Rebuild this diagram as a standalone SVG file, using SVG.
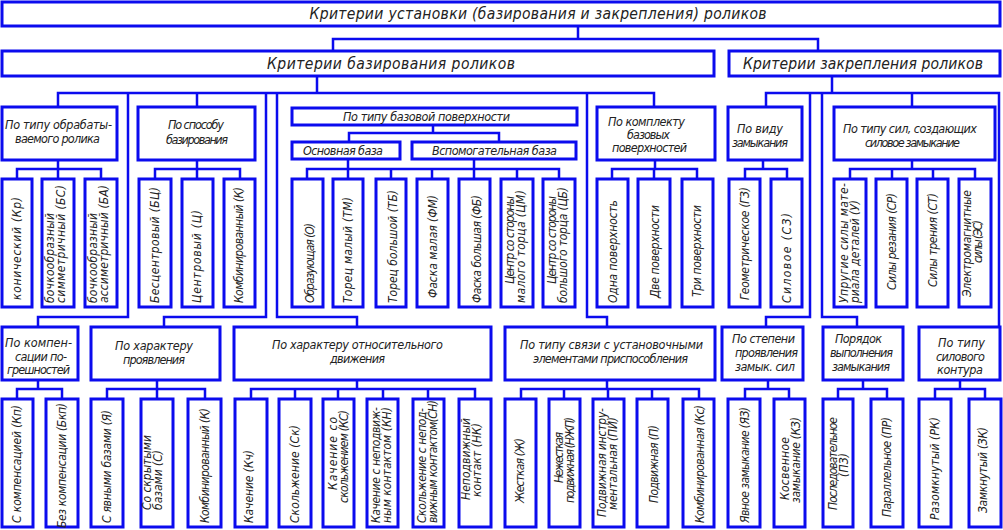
<svg xmlns="http://www.w3.org/2000/svg" width="1003" height="530" viewBox="0 0 1003 530">
<style>
.b{fill:#fff;stroke:#0b0bee;stroke-width:3}
.c{fill:none;stroke:#0b0bee;stroke-width:2.5}
text{font-family:"Liberation Sans Narrow","DejaVu Sans Condensed","Liberation Sans",Arial,sans-serif;font-style:italic;font-size:12.5px;fill:#222;text-anchor:middle}
.h{font-size:15.5px}
.v text{font-size:12px}
</style>
<rect width="1003" height="530" fill="#fff"/>
<g id="connectors" class="c">
<path d="M578,26V39M333,51V39H818V51"/>
<path d="M317,76V93M58,107V93H654V107M197,93V107M128,93V317H38V327M266,93V317H164V327M277,93V317H357V327M587,93V317H607V327"/>
<path d="M832,76V93M766,107V93H999V327M912,93V107M810,93V317H766V327M822,93V317H857V327"/>
<path d="M58,160V169M17,179V169H101V179M58,169V179"/>
<path d="M197,160V169M155,179V169H240V179M197,169V179"/>
<path d="M433,125V133M349,142V133H499V142"/>
<path d="M348,159V169M474,159V169M307,179V169H559V179M348,169V179M391,169V179M432,169V179M474,169V179M517,169V179"/>
<path d="M655,160V169M612,179V169H697V179M654,169V179"/>
<path d="M763,160V169M745,179V169H787V179"/>
<path d="M912,160V169M850,179V169H975V179M892,169V179M933,169V179"/>
<path d="M38,380V389M17,399V389H62V399"/>
<path d="M157,380V389M107,399V389H205V399M157,389V399"/>
<path d="M357,380V389M251,399V389H475V399M295,389V399M338,389V399M383,389V399M428,389V399"/>
<path d="M607,380V389M521,399V389H699V399M564,389V399M608,389V399M652,389V399"/>
<path d="M768,380V389M745,399V389H789V399"/>
<path d="M863,380V389M838,399V389H887V399"/>
<path d="M960,380V389M935,399V389H985V399"/>
</g>
<g id="root"><rect class="b" x="2" y="2" width="998" height="24"/><text class="h" x="538" y="19" textLength="457" lengthAdjust="spacing">Критерии установки (базирования и закрепления) роликов</text></g>
<g id="baz"><rect class="b" x="2" y="51" width="712" height="25"/><text class="h" x="391" y="69" textLength="248" lengthAdjust="spacing">Критерии базирования  роликов</text></g>
<g id="zakr"><rect class="b" x="729" y="51" width="271" height="25"/><text class="h" x="863" y="69" textLength="240" lengthAdjust="spacing">Критерии закрепления роликов</text></g>

<g id="n_obr"><rect class="b" x="2" y="107" width="115" height="53"/><text x="58.5" y="129" textLength="107">По типу обрабаты-</text><text x="57.5" y="143" textLength="85">ваемого ролика</text></g>
<g id="n_sposob"><rect class="b" x="138" y="107" width="117" height="53"/><text x="196" y="129" textLength="56">По способу</text><text x="197" y="144" textLength="62">базирования</text></g>
<g id="n_tipbaz"><rect class="b" x="292" y="108" width="285" height="17"/><text x="426.5" y="121" textLength="167">По типу базовой поверхности</text></g>
<g id="n_osn"><rect class="b" x="292" y="142" width="108" height="17"/><text x="343" y="155" textLength="80">Основная база</text></g>
<g id="n_vsp"><rect class="b" x="412" y="142" width="164" height="17"/><text x="494.5" y="155" textLength="125">Вспомогательная база</text></g>
<g id="n_kompl"><rect class="b" x="597" y="107" width="118" height="53"/><text x="646.5" y="126" textLength="77">По комплекту</text><text x="648.5" y="139" textLength="43">базовых</text><text x="649.5" y="152" textLength="75">поверхностей</text></g>
<g id="n_vid"><rect class="b" x="728" y="107" width="74" height="53"/><text x="760" y="133" textLength="46">По виду</text><text x="760" y="147" textLength="56">замыкания</text></g>
<g id="n_sil"><rect class="b" x="834" y="107" width="161" height="53"/><text x="910" y="132.5" textLength="134">По типу сил, создающих</text><text x="912.5" y="147" textLength="95">силовое замыкание</text></g>

<g id="n_komp"><rect class="b" x="2" y="327" width="76" height="53"/><text x="38.5" y="347" textLength="67">По компен-</text><text x="41" y="361" textLength="52">сации по-</text><text x="38.5" y="374" textLength="63">грешностей</text></g>
<g id="n_har"><rect class="b" x="91" y="327" width="129" height="53"/><text x="154" y="350" textLength="78">По характеру</text><text x="154" y="364" textLength="62">проявления</text></g>
<g id="n_otn"><rect class="b" x="234" y="327" width="257" height="53"/><text x="357.5" y="349" textLength="171">По характеру относительного</text><text x="357.5" y="362.5" textLength="55">движения</text></g>
<g id="n_svyaz"><rect class="b" x="505" y="327" width="210" height="53"/><text x="611.5" y="349" textLength="183">По типу связи с установочными</text><text x="610.5" y="362.5" textLength="155">элементами приспособления</text></g>
<g id="n_step"><rect class="b" x="722" y="327" width="81" height="53"/><text x="763.5" y="343" textLength="63">По степени</text><text x="766.5" y="357" textLength="63">проявления</text><text x="765" y="371" textLength="60">замык. сил</text></g>
<g id="n_por"><rect class="b" x="823" y="327" width="80" height="53"/><text x="858.5" y="343" textLength="47">Порядок</text><text x="861.5" y="357" textLength="63">выполнения</text><text x="861" y="371" textLength="58">замыкания</text></g>
<g id="n_kont"><rect class="b" x="919" y="327" width="81" height="53"/><text x="961.5" y="347" textLength="47">По типу</text><text x="960.5" y="361" textLength="49">силового</text><text x="960" y="374" textLength="46">контура</text></g>

<g id="leaves_top" class="v">
<g id="A1"><rect class="b" x="2" y="179" width="30" height="128"/><text transform="translate(21,248.5) rotate(-90)" textLength="103">конический (Кр)</text></g>
<g id="A2"><rect class="b" x="42" y="179" width="32" height="128"/><text transform="translate(53.5,258) rotate(-90)" textLength="90">бочкообразный</text><text transform="translate(64.5,244) rotate(-90)" textLength="118">симметричный (БС)</text></g>
<g id="A3"><rect class="b" x="85" y="179" width="32" height="128"/><text transform="translate(96.5,258) rotate(-90)" textLength="90">бочкообразный</text><text transform="translate(107.5,244) rotate(-90)" textLength="118">ассиметричный (БА)</text></g>
<g id="B1"><rect class="b" x="139" y="179" width="32" height="128"/><text transform="translate(159,245) rotate(-90)" textLength="116">Бесцентровый (БЦ)</text></g>
<g id="B2"><rect class="b" x="182" y="179" width="31" height="128"/><text transform="translate(201,256.5) rotate(-90)" textLength="93">Центровый (Ц)</text></g>
<g id="B3"><rect class="b" x="224" y="179" width="31" height="128"/><text transform="translate(243,245) rotate(-90)" textLength="116">Комбинированный (К)</text></g>
<g id="C1"><rect class="b" x="292" y="179" width="31" height="128"/><text transform="translate(314,263) rotate(-90)" textLength="80">Образующая (О)</text></g>
<g id="C2"><rect class="b" x="333" y="179" width="30" height="128"/><text transform="translate(352,250) rotate(-90)" textLength="106">Торец малый (ТМ)</text></g>
<g id="C3"><rect class="b" x="376" y="179" width="30" height="128"/><text transform="translate(397,246.5) rotate(-90)" textLength="113">Торец большой (ТБ)</text></g>
<g id="C4"><rect class="b" x="417" y="179" width="31" height="128"/><text transform="translate(437,246.5) rotate(-90)" textLength="103">Фаска малая (ФМ)</text></g>
<g id="C5"><rect class="b" x="459" y="179" width="31" height="128"/><text transform="translate(481,249) rotate(-90)" textLength="108">Фаска большая (ФБ)</text></g>
<g id="C6"><rect class="b" x="501" y="179" width="32" height="128"/><text transform="translate(513.5,240) rotate(-90)" textLength="88">Центр со стороны</text><text transform="translate(524.5,246.5) rotate(-90)" textLength="113">малого торца (ЦМ)</text></g>
<g id="C7"><rect class="b" x="543" y="179" width="32" height="128"/><text transform="translate(555.5,240) rotate(-90)" textLength="88">Центр со стороны</text><text transform="translate(566.5,245) rotate(-90)" textLength="116">большого торца (ЦБ)</text></g>
<g id="D1"><rect class="b" x="597" y="179" width="31" height="128"/><text transform="translate(617,251.5) rotate(-90)" textLength="103">Одна поверхность</text></g>
<g id="D2"><rect class="b" x="638" y="179" width="32" height="128"/><text transform="translate(659,251.5) rotate(-90)" textLength="93">Две поверхности</text></g>
<g id="D3"><rect class="b" x="682" y="179" width="31" height="128"/><text transform="translate(701,251) rotate(-90)" textLength="92">Три поверхности</text></g>
<g id="E1"><rect class="b" x="729" y="179" width="31" height="128"/><text transform="translate(749,243.5) rotate(-90)" textLength="113">Геометрическое (ГЗ)</text></g>
<g id="E2"><rect class="b" x="771" y="179" width="31" height="128"/><text transform="translate(791,258) rotate(-90)" textLength="90">Силовое (СЗ)</text></g>
<g id="F1"><rect class="b" x="834" y="179" width="32" height="128"/><text transform="translate(847.5,243) rotate(-90)" textLength="120">Упругие силы мате-</text><text transform="translate(858.5,251.5) rotate(-90)" textLength="103">риала деталей (У)</text></g>
<g id="F2"><rect class="b" x="876" y="179" width="31" height="128"/><text transform="translate(896,241.5) rotate(-90)" textLength="97">Силы резания (СР)</text></g>
<g id="F3"><rect class="b" x="917" y="179" width="31" height="128"/><text transform="translate(937,240) rotate(-90)" textLength="94">Силы трения (СТ)</text></g>
<g id="F4"><rect class="b" x="959" y="179" width="32" height="128"/><text transform="translate(970.5,243.5) rotate(-90)" textLength="107">Электромагнитные</text><text transform="translate(981.5,241.5) rotate(-90)" textLength="43">силы (ЭС)</text></g>
</g>

<g id="leaves_bottom" class="v">
<g id="G1"><rect class="b" x="2" y="399" width="31" height="128"/><text transform="translate(21,464) rotate(-90)" textLength="118">С компенсацией (Кп)</text></g>
<g id="G2"><rect class="b" x="46" y="399" width="32" height="128"/><text transform="translate(66,465.5) rotate(-90)" textLength="125">Без компенсации (Бкп)</text></g>
<g id="H1"><rect class="b" x="91" y="399" width="32" height="128"/><text transform="translate(111,466.5) rotate(-90)" textLength="113">С явными базами (Я)</text></g>
<g id="H2"><rect class="b" x="141" y="399" width="32" height="128"/><text transform="translate(151,472.5) rotate(-90)" textLength="75">Со скрытыми</text><text transform="translate(162,480) rotate(-90)" textLength="60">базами (С)</text></g>
<g id="H3"><rect class="b" x="188" y="399" width="33" height="128"/><text transform="translate(209,465.5) rotate(-90)" textLength="115">Комбинированный (К)</text></g>
<g id="I1"><rect class="b" x="235" y="399" width="32" height="128"/><text transform="translate(253,486.5) rotate(-90)" textLength="73">Качение (Кч)</text></g>
<g id="I2"><rect class="b" x="279" y="399" width="32" height="128"/><text transform="translate(299,474) rotate(-90)" textLength="98">Скольжение (Ск)</text></g>
<g id="I3"><rect class="b" x="323" y="399" width="31" height="128"/><text transform="translate(336.5,453.5) rotate(-90)" textLength="73">Качение со</text><text transform="translate(347.5,456.5) rotate(-90)" textLength="93">скольжением (КС)</text></g>
<g id="I4"><rect class="b" x="367" y="399" width="31" height="128"/><text transform="translate(380,465) rotate(-90)" textLength="116">Качение с неподвиж-</text><text transform="translate(391,465) rotate(-90)" textLength="116">ным контактом (КН)</text></g>
<g id="I5"><rect class="b" x="413" y="399" width="31" height="128"/><text transform="translate(425.5,465.5) rotate(-90)" textLength="115">Скольжение с непод-</text><text transform="translate(436.5,461.5) rotate(-90)" textLength="123">вижным контактом(СН)</text></g>
<g id="I6"><rect class="b" x="459" y="399" width="32" height="128"/><text transform="translate(469.5,459) rotate(-90)" textLength="82">Неподвижный</text><text transform="translate(480.5,460) rotate(-90)" textLength="74">контакт (НК)</text></g>
<g id="J1"><rect class="b" x="505" y="399" width="31" height="128"/><text transform="translate(524,470.5) rotate(-90)" textLength="65">Жесткая (Ж)</text></g>
<g id="J2"><rect class="b" x="549" y="399" width="31" height="128"/><text transform="translate(562.5,457.5) rotate(-90)" textLength="51">Нежесткая</text><text transform="translate(573.5,460) rotate(-90)" textLength="86">подвижная (НЖП)</text></g>
<g id="J3"><rect class="b" x="593" y="399" width="31" height="128"/><text transform="translate(605.5,462.5) rotate(-90)" textLength="109">Подвижная инстру-</text><text transform="translate(616.5,463.5) rotate(-90)" textLength="93">ментальная (ПИ)</text></g>
<g id="J4"><rect class="b" x="637" y="399" width="31" height="128"/><text transform="translate(658,464) rotate(-90)" textLength="78">Подвижная (П)</text></g>
<g id="J5"><rect class="b" x="683" y="399" width="31" height="128"/><text transform="translate(704,464) rotate(-90)" textLength="118">Комбинированная (Кс)</text></g>
<g id="K1"><rect class="b" x="728" y="399" width="32" height="128"/><text transform="translate(749,465) rotate(-90)" textLength="116">Явное замыкание (ЯЗ)</text></g>
<g id="K2"><rect class="b" x="774" y="399" width="31" height="128"/><text transform="translate(789,468.5) rotate(-90)" textLength="63">Косвенное</text><text transform="translate(800,460) rotate(-90)" textLength="86">замыкание (КЗ)</text></g>
<g id="L1"><rect class="b" x="823" y="399" width="30" height="128"/><text transform="translate(837,463.5) rotate(-90)" textLength="93">Последовательное</text><text transform="translate(848,465) rotate(-90)" textLength="24">(ПЗ)</text></g>
<g id="L2"><rect class="b" x="871" y="399" width="32" height="128"/><text transform="translate(891,467) rotate(-90)" textLength="100">Параллельное (ПР)</text></g>
<g id="M1"><rect class="b" x="919" y="399" width="32" height="128"/><text transform="translate(939,468.5) rotate(-90)" textLength="103">Разомкнутый (РК)</text></g>
<g id="M2"><rect class="b" x="969" y="399" width="32" height="128"/><text transform="translate(987,470) rotate(-90)" textLength="86">Замкнутый (ЗК)</text></g>
</g>
</svg>
